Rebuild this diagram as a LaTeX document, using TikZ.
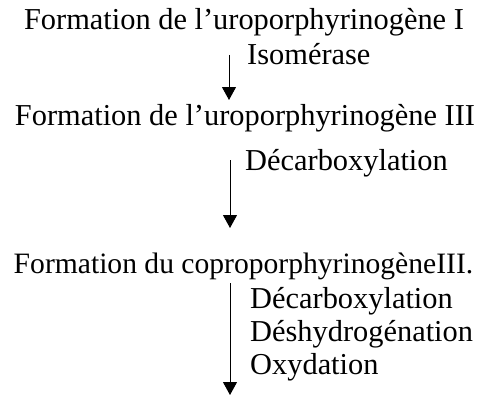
\documentclass[tikz,border=0pt]{standalone}
\usepackage{fontspec}
\setmainfont{Liberation Serif}
\usetikzlibrary{arrows.meta}
\begin{document}
\begin{tikzpicture}[x=1pt,y=1pt,
  title/.style={font=\fontsize{30.4}{34}\selectfont, inner sep=0pt, anchor=base},
  label/.style={font=\fontsize{30.4}{34}\selectfont, inner sep=0pt, anchor=base west},
  flow/.style={line width=1pt, -{Triangle[length=13pt,width=14pt]}}]
\useasboundingbox (0,0) rectangle (479,-396);
\node[title] (t1) at (244,-30) {Formation de l’uroporphyrinogène I};
\node[title] (t2) at (245,-125) {Formation de l’uroporphyrinogène III};
\node[title, font=\fontsize{29.6}{34}\selectfont] (t3) at (243.5,-273) {Formation du coproporphyrinogèneIII.};
\node[label] (l1) at (247,-65) {Isomérase};
\node[label] (l2) at (245,-170) {Décarboxylation};
\node[label] (l3a) at (250,-308) {Décarboxylation};
\node[label] (l3b) at (250,-341) {Déshydrogénation};
\node[label] (l3c) at (250,-374) {Oxydation};
\coordinate (a1s) at (229,-55);
\coordinate (a1e) at (229,-100);
\coordinate (a2s) at (230,-160);
\coordinate (a2e) at (230,-228);
\coordinate (a3s) at (230,-283);
\coordinate (a3e) at (230,-395);
\draw[flow] (a1s) -- (a1e);
\draw[flow] (a2s) -- (a2e);
\draw[flow] (a3s) -- (a3e);
\end{tikzpicture}
\end{document}
